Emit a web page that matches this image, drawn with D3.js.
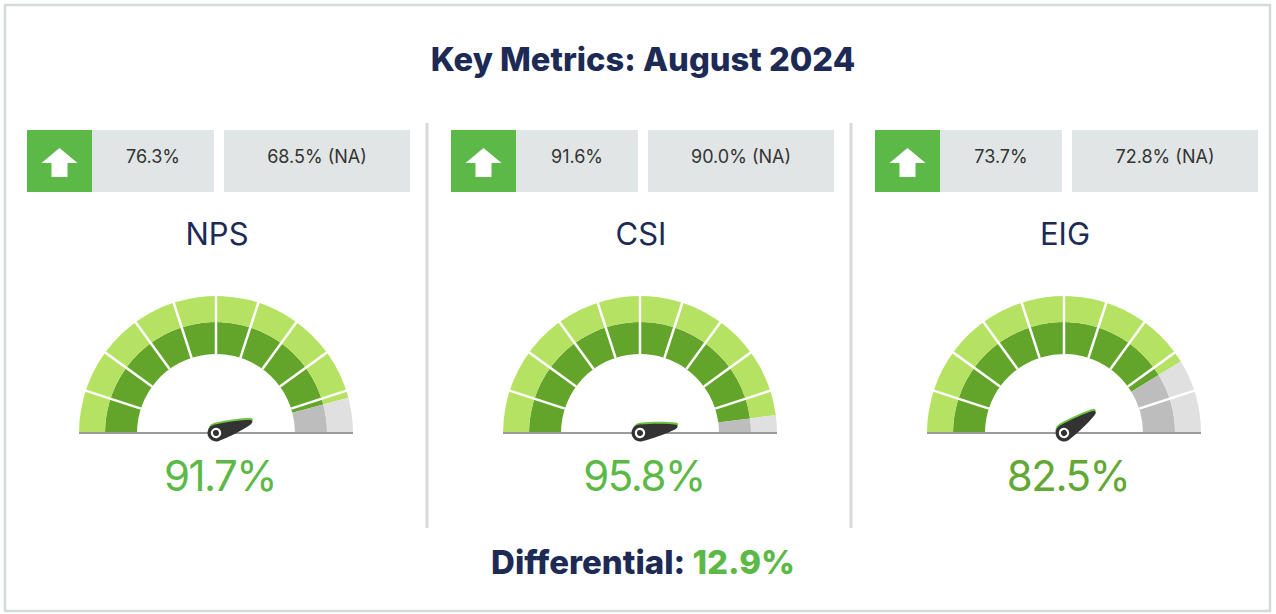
<!DOCTYPE html>
<html>
<head>
<meta charset="utf-8">
<script src="https://cdn.jsdelivr.net/npm/d3@7"></script>
<style>
  body { margin: 0; background: #fff; }
  text { font-family: Inter, "Noto Sans", sans-serif; }
</style>
</head>
<body>
<script>
var w = 1276;
var h = 614;

// data
var metrics = ["NPS", "CSI", "EIG"];
var scores = [91.7, 95.8, 82.5];
var currentVals = [76.3, 91.6, 73.7];
var naVals = [68.5, 90.0, 72.8];
var differential = 12.9;
var segmentCount = 10;

var navy = "#1c2a55";
var green = "#5cb947";

var svg = d3.select("body").append("svg")
  .attr("width", w)
  .attr("height", h);

// outer frame
svg.append("rect")
  .attr("x", 5).attr("y", 5)
  .attr("width", 1265).attr("height", 606)
  .attr("fill", "#fff")
  .attr("stroke", "#d4dad8")
  .attr("stroke-width", 2.5);

svg.append("text")
  .attr("x", 643).attr("y", 71)
  .attr("text-anchor", "middle")
  .attr("font-size", 32.7)
  .attr("font-weight", 800)
  .attr("fill", navy)
  .text("Key Metrics: August 2024");

var xScale = d3.scalePoint()
  .domain(metrics)
  .range([217, 1065]);

// dividers between panels
var centers = metrics.map(function (m) { return xScale(m); });
for (var i = 0; i < centers.length - 1; i++) {
  var mx = (centers[i] + centers[i + 1]) / 2 - 2;
  svg.append("line")
    .attr("x1", mx).attr("x2", mx)
    .attr("y1", 123).attr("y2", 528)
    .attr("stroke", "#d9d9d9")
    .attr("stroke-width", 3);
}

var gaugeY = 433;
var rInner = 79, rMid = 111, rOuter = 137;
var angleScale = d3.scaleLinear().domain([0, 100]).range([-Math.PI / 2, Math.PI / 2]);
var arc = d3.arc();

var panelData = metrics.map(function (m, i) {
  return { name: m, score: scores[i], cur: currentVals[i], na: naVals[i] };
});

var panel = svg.selectAll("g.panel")
  .data(panelData)
  .join("g")
  .attr("class", "panel")
  .attr("transform", function (d) { return "translate(" + xScale(d.name) + ",0)"; });

// top boxes
var boxY = 130, boxH = 62;
panel.append("rect")
  .attr("x", -190).attr("y", boxY)
  .attr("width", 65).attr("height", boxH)
  .attr("fill", "#5cb947");
panel.append("path")
  .attr("transform", "translate(-157.5," + (boxY + 31) + ")")
  .attr("d", "M0,-13 L18,2 L8,2 L8,16 L-8,16 L-8,2 L-18,2 Z")
  .attr("fill", "#fff");
panel.append("rect")
  .attr("x", -125).attr("y", boxY)
  .attr("width", 122).attr("height", boxH)
  .attr("fill", "#e1e5e5");
panel.append("rect")
  .attr("x", 7).attr("y", boxY)
  .attr("width", 186).attr("height", boxH)
  .attr("fill", "#e1e5e5");
panel.append("text")
  .attr("x", -64).attr("y", boxY + 33)
  .attr("text-anchor", "middle")
  .attr("font-size", 18)
  .attr("fill", "#333")
  .text(function (d) { return d.cur.toFixed(1) + "%"; });
panel.append("text")
  .attr("x", 100).attr("y", boxY + 33)
  .attr("text-anchor", "middle")
  .attr("font-size", 18)
  .attr("fill", "#333")
  .text(function (d) { return d.na.toFixed(1) + "% (NA)"; });

panel.append("text")
  .attr("x", 0).attr("y", 245)
  .attr("text-anchor", "middle")
  .attr("font-size", 31)
  .attr("fill", navy)
  .text(function (d) { return d.name; });

// gauge
var gauge = panel.append("g")
  .attr("transform", "translate(-1," + gaugeY + ")");

var rings = [
  { r0: rInner, r1: rMid, on: "#62a52a", off: "#bdbdbd" },
  { r0: rMid, r1: rOuter, on: "#b5e262", off: "#e0e0e0" }
];

gauge.each(function (d) {
  var g = d3.select(this);
  var va = angleScale(d.score);
  var pieces = [];
  rings.forEach(function (ring) {
    pieces.push({ r0: ring.r0, r1: ring.r1, a0: angleScale(0), a1: va, fill: ring.on });
    pieces.push({ r0: ring.r0, r1: ring.r1, a0: va, a1: angleScale(100), fill: ring.off });
  });
  g.selectAll("path.piece")
    .data(pieces)
    .join("path")
    .attr("class", "piece")
    .attr("d", function (p) {
      return arc({ innerRadius: p.r0, outerRadius: p.r1, startAngle: p.a0, endAngle: p.a1 });
    })
    .attr("fill", function (p) { return p.fill; });

  var seps = d3.range(1, segmentCount).map(function (k) { return k * 100 / segmentCount; });
  g.selectAll("line.sep")
    .data(seps)
    .join("line")
    .attr("class", "sep")
    .attr("x1", function (s) { return rInner * Math.sin(angleScale(s)); })
    .attr("y1", function (s) { return -rInner * Math.cos(angleScale(s)); })
    .attr("x2", function (s) { return (rOuter + 1) * Math.sin(angleScale(s)); })
    .attr("y2", function (s) { return -(rOuter + 1) * Math.cos(angleScale(s)); })
    .attr("stroke", "#fff")
    .attr("stroke-width", 2.5);

  g.append("line")
    .attr("x1", -rOuter).attr("x2", rOuter)
    .attr("y1", 0).attr("y2", 0)
    .attr("stroke", "#9a9a9a")
    .attr("stroke-width", 2);

  // needle
  var deg = va * 180 / Math.PI - 90;
  var needle = g.append("g").attr("transform", "rotate(" + deg + ")");
  var shape = "M0,-8.5 C14,-8 28,-6 37,-3.5 Q40,-1 35,1 C26,4 14,7 0,8.5 A8.5,8.5 0 0 1 0,-8.5 Z";
  needle.append("path")
    .attr("d", shape)
    .attr("transform", "translate(1,-1.8)")
    .attr("fill", "#6cc440");
  needle.append("path")
    .attr("d", shape)
    .attr("fill", "#333");
  needle.append("circle").attr("r", 5.2).attr("fill", "#fff");
  needle.append("circle").attr("r", 3).attr("fill", "#333");
});

panel.append("text")
  .attr("x", 3).attr("y", 491)
  .attr("text-anchor", "middle")
  .attr("font-size", 42)
  .attr("letter-spacing", -1.5)
  .attr("fill", function (d) { return d.score >= 90 ? green : "#62a832"; })
  .text(function (d) { return d.score.toFixed(1) + "%"; });

var diff = svg.append("text")
  .attr("x", 643).attr("y", 574)
  .attr("text-anchor", "middle")
  .attr("font-size", 33)
  .attr("font-weight", 800);
diff.append("tspan").attr("fill", navy).text("Differential: ");
diff.append("tspan").attr("fill", green).text(differential.toFixed(1) + "%");
</script>
</body>
</html>
